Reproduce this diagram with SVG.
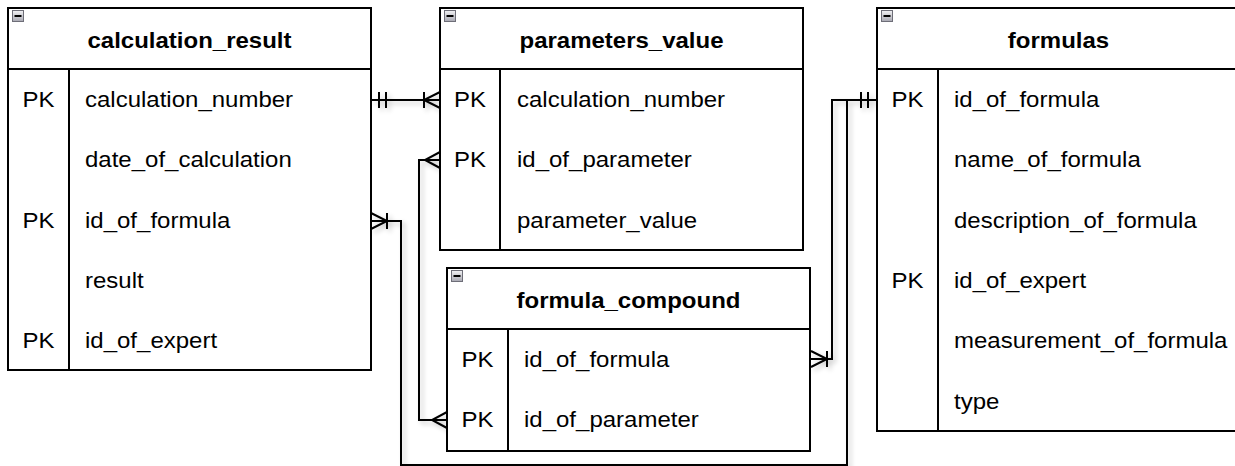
<svg xmlns="http://www.w3.org/2000/svg" width="1235" height="466" viewBox="0 0 1235 466">
  <style>
    .box { fill: #ffffff; stroke: #000000; stroke-width: 2; }
    .sep { fill: none; stroke: #000000; stroke-width: 2; }
    .title { font-family: "Liberation Sans", Arial, sans-serif; font-size: 24px; font-weight: bold; fill: #000000; text-anchor: middle; }
    .cell { font-family: "Liberation Sans", Arial, sans-serif; font-size: 24px; fill: #000000; }
    .key { font-family: "Liberation Sans", Arial, sans-serif; font-size: 24px; fill: #000000; text-anchor: middle; }
    .edge { fill: none; stroke: #000000; stroke-width: 2; }
    .icon { fill: url(#iconFill); stroke: #6e6e78; stroke-width: 1; }
    .minus { stroke: #000000; stroke-width: 2; }
  </style>
  <defs>
    <linearGradient id="iconFill" x1="0" y1="0" x2="0" y2="1">
      <stop offset="0" stop-color="#f2f2f4"/>
      <stop offset="1" stop-color="#a8a8b2"/>
    </linearGradient>
    <filter id="edgeShadow" x="-5%" y="-5%" width="110%" height="110%">
      <feGaussianBlur in="SourceAlpha" stdDeviation="2.5"/>
      <feOffset dx="3" dy="3" result="b"/>
      <feComponentTransfer><feFuncA type="linear" slope="0.22"/></feComponentTransfer>
      <feMerge><feMergeNode/><feMergeNode in="SourceGraphic"/></feMerge>
    </filter>
    <!-- collapse toggle in the table headers -->
    <g id="toggle">
      <rect class="icon" x="0.5" y="0.5" width="11" height="11"/>
      <line class="minus" x1="2.5" y1="6" x2="9.5" y2="6"/>
    </g>
  </defs>

  <rect width="1235" height="466" fill="#ffffff"/>

  <!-- relationships -->
  <g id="connectors" filter="url(#edgeShadow)">
    <!-- calculation_result.calculation_number -> parameters_value.calculation_number -->
    <path class="edge" d="M371 100 H440"/>
    <path class="edge" d="M379 92 V108 M386 92 V108"/>
    <path class="edge" d="M440 92 L424 100 L440 108 M424 92 V108"/>

    <!-- parameters_value.id_of_parameter -> formula_compound.id_of_parameter -->
    <path class="edge" d="M440 160 H419 V420 H447"/>
    <path class="edge" d="M440 152 L425 160 L440 168"/>
    <path class="edge" d="M447 412 L432 420 L447 428"/>

    <!-- calculation_result.id_of_formula -> formulas.id_of_formula -->
    <path class="edge" d="M371 221 H401 V465 H847 V100 H877"/>
    <path class="edge" d="M371 213 L387 221 L371 229 M387 213 V229"/>

    <!-- formula_compound.id_of_formula -> formulas.id_of_formula -->
    <path class="edge" d="M811 359 H832 V100 H877"/>
    <path class="edge" d="M811 351 L827 359 L811 367 M827 351 V367"/>
    <path class="edge" d="M861 92 V108 M868 92 V108"/>
  </g>

  <!-- table: calculation_result -->
  <g id="calculation_result">
    <rect class="box" x="8" y="8" width="363" height="362"/>
    <path class="sep" d="M8 69 H371 M69 69 V370"/>
    <use href="#toggle" x="12" y="10"/>
    <text class="title" transform="translate(189.5,48) scale(1,0.92)">calculation_result</text>
    <text class="key" transform="translate(38.5,107) scale(1,0.9)">PK</text>
    <text class="cell" transform="translate(85,107) scale(1,0.9)">calculation_number</text>
    <text class="cell" transform="translate(85,167) scale(1,0.9)">date_of_calculation</text>
    <text class="key" transform="translate(38.5,228) scale(1,0.9)">PK</text>
    <text class="cell" transform="translate(85,228) scale(1,0.9)">id_of_formula</text>
    <text class="cell" transform="translate(85,288) scale(1,0.9)">result</text>
    <text class="key" transform="translate(38.5,348) scale(1,0.9)">PK</text>
    <text class="cell" transform="translate(85,348) scale(1,0.9)">id_of_expert</text>
  </g>

  <!-- table: parameters_value -->
  <g id="parameters_value">
    <rect class="box" x="440" y="8" width="363" height="242"/>
    <path class="sep" d="M440 69 H803 M500 69 V250"/>
    <use href="#toggle" x="444" y="10"/>
    <text class="title" transform="translate(621.5,48) scale(1,0.92)">parameters_value</text>
    <text class="key" transform="translate(470,107) scale(1,0.9)">PK</text>
    <text class="cell" transform="translate(517,107) scale(1,0.9)">calculation_number</text>
    <text class="key" transform="translate(470,167) scale(1,0.9)">PK</text>
    <text class="cell" transform="translate(517,167) scale(1,0.9)">id_of_parameter</text>
    <text class="cell" transform="translate(517,228) scale(1,0.9)">parameter_value</text>
  </g>

  <!-- table: formula_compound -->
  <g id="formula_compound">
    <rect class="box" x="447" y="268" width="363" height="183"/>
    <path class="sep" d="M447 329 H810 M508 329 V451"/>
    <use href="#toggle" x="451" y="270"/>
    <text class="title" transform="translate(628.5,308) scale(1,0.92)">formula_compound</text>
    <text class="key" transform="translate(477.5,367) scale(1,0.9)">PK</text>
    <text class="cell" transform="translate(524,367) scale(1,0.9)">id_of_formula</text>
    <text class="key" transform="translate(477.5,427) scale(1,0.9)">PK</text>
    <text class="cell" transform="translate(524,427) scale(1,0.9)">id_of_parameter</text>
  </g>

  <!-- table: formulas -->
  <g id="formulas">
    <rect class="box" x="877" y="8" width="363" height="423"/>
    <path class="sep" d="M877 69 H1240 M938 69 V431"/>
    <use href="#toggle" x="881" y="10"/>
    <text class="title" transform="translate(1058.5,48) scale(1,0.92)">formulas</text>
    <text class="key" transform="translate(907.5,107) scale(1,0.9)">PK</text>
    <text class="cell" transform="translate(954,107) scale(1,0.9)">id_of_formula</text>
    <text class="cell" transform="translate(954,167) scale(1,0.9)">name_of_formula</text>
    <text class="cell" transform="translate(954,228) scale(1,0.9)">description_of_formula</text>
    <text class="key" transform="translate(907.5,288) scale(1,0.9)">PK</text>
    <text class="cell" transform="translate(954,288) scale(1,0.9)">id_of_expert</text>
    <text class="cell" transform="translate(954,348) scale(1,0.9)">measurement_of_formula</text>
    <text class="cell" transform="translate(954,409) scale(1,0.9)">type</text>
  </g>
</svg>
